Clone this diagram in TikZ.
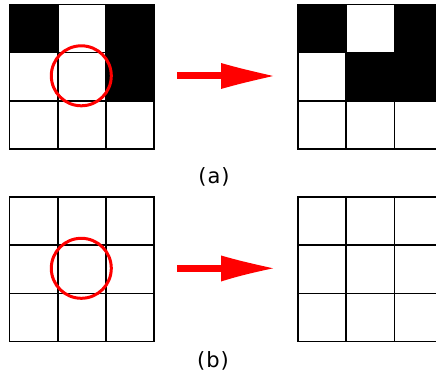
\documentclass[tikz,border=0pt]{standalone}
\usepackage{fontspec}
\setmainfont{DejaVu Sans}
\begin{document}
\begin{tikzpicture}[x=1pt,y=-1pt,
  gridline/.style={line width=1.6pt, draw=black},
  blackcell/.style={fill=black},
  ring/.style={draw=red, line width=3pt},
  redarrow/.style={fill=red},
  lab/.style={font=\fontsize{21}{24}\selectfont, inner sep=0pt},
  grid3/.pic={
    \foreach \i in {1,2} {
      \draw[gridline] (\i*48.2,0) -- (\i*48.2,144.6);
      \draw[gridline] (0,\i*48.2) -- (144.6,\i*48.2);
    }
    \draw[gridline] (0,0) rectangle (144.6,144.6);
  }]
\useasboundingbox (0,0) rectangle (436,379);
\clip (0,0) rectangle (436,379);
\fill[white] (0,0) rectangle (436,379);
% (a) left grid black cells
\fill[blackcell] (9.5,4.5) rectangle (57.7,52.7);
\fill[blackcell] (105.9,4.5) rectangle (154.1,100.9);
\pic at (9.5,4.5) {grid3};
% (a) right grid black cells
\fill[blackcell] (298,4.5) rectangle (346.2,52.7);
\fill[blackcell] (394.4,4.5) rectangle (442.6,100.9);
\fill[blackcell] (346.2,52.7) rectangle (394.4,100.9);
\pic at (298,4.5) {grid3};
% (b) grids
\pic at (9.5,197) {grid3};
\pic at (298,197) {grid3};
% circles
\draw[ring] (81.3,75.8) circle[radius=30];
\draw[ring] (81.3,268.3) circle[radius=30];
% arrows
\fill[redarrow] (177,72.5) rectangle (222,79.5);
\fill[redarrow] (221,63) .. controls (240,68.5) and (256,72) .. (273,76) .. controls (256,80) and (240,83.5) .. (221,89) -- cycle;
\fill[redarrow] (177,264.5) rectangle (222,272);
\fill[redarrow] (221,255.5) .. controls (240,261) and (256,264.5) .. (273,268.3) .. controls (256,272) and (240,275.5) .. (221,281.5) -- cycle;
% labels
\node[lab] (la) at (214,177) {(\kern1pt a\kern1pt)};
\node[lab] (lb) at (213,360.5) {(\kern1pt b\kern1pt)};
\end{tikzpicture}
\end{document}
